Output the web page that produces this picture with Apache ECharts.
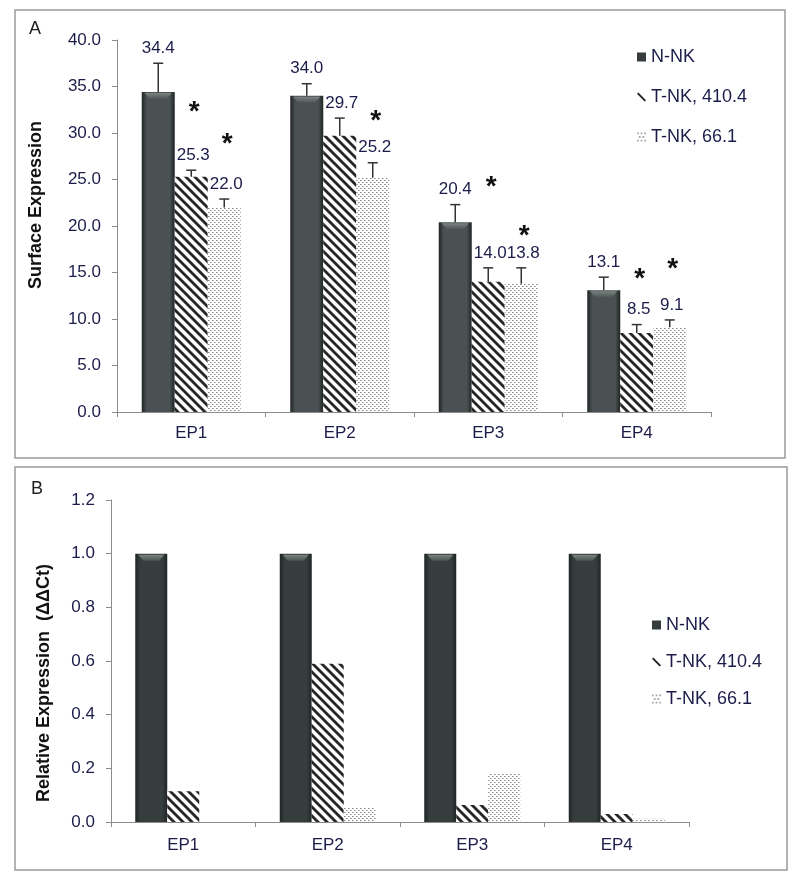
<!DOCTYPE html>
<html>
<head>
<meta charset="utf-8">
<script src="https://cdn.jsdelivr.net/npm/echarts@6/dist/echarts.min.js"></script>
<style>
  html, body { margin: 0; padding: 0; background: #ffffff; }
  #chart { width: 800px; height: 878px; }
</style>
</head>
<body>
<div id="chart"></div>
<script>
// ---------- data ----------
const categories = ['EP1', 'EP2', 'EP3', 'EP4'];
const seriesNames = ['N-NK', 'T-NK, 410.4', 'T-NK, 66.1'];

// Panel A: surface expression
const surfaceNNK  = [34.4, 34.0, 20.4, 13.1];
const surfaceT410 = [25.3, 29.7, 14.0, 8.5];
const surfaceT66  = [22.0, 25.2, 13.8, 9.1];
const errNNK  = [3.1, 1.3, 1.9, 1.4];
const errT410 = [0.7, 1.9, 1.5, 0.9];
const errT66  = [0.9, 1.6, 1.7, 0.8];
// significance asterisks: [category index, series index, y value]
const starPoints = [[0, 1, 33.0], [0, 2, 29.5], [1, 2, 32.0], [2, 1, 24.9], [2, 2, 19.6], [3, 1, 15.0], [3, 2, 16.1]];

// Panel B: relative expression (ΔΔCt)
const relNNK  = [1.0, 1.0, 1.0, 1.0];
const relT410 = [0.115, 0.59, 0.063, 0.03];
const relT66  = [0.0, 0.055, 0.18, 0.012];

// axis ticks
const yTicksA = { min: 0, max: 40, interval: 5 };
const yTicksB = { min: 0, max: 1.2, interval: 0.2 };

// ---------- styles ----------
const FONT = 'Liberation Sans, Arial, sans-serif';
const TXT = '#1c1c4a';
const AXIS = '#8c8c8c';
const BAR_A = 33, BAR_B = 32;

function hatchPattern() {
  const s = 9, c = document.createElement('canvas');
  c.width = s; c.height = s;
  const g = c.getContext('2d');
  g.fillStyle = '#ffffff'; g.fillRect(0, 0, s, s);
  g.strokeStyle = '#262626'; g.lineWidth = 2.8; g.lineCap = 'square';
  for (const o of [-s, 0, s]) { g.beginPath(); g.moveTo(o, 0); g.lineTo(o + s, s); g.stroke(); }
  return { image: c, repeat: 'repeat' };
}
function dotPattern() {
  const s = 4, c = document.createElement('canvas');
  c.width = s; c.height = s;
  const g = c.getContext('2d');
  g.fillStyle = '#ffffff'; g.fillRect(0, 0, s, s);
  g.fillStyle = '#8a8a8a';
  g.fillRect(0, 0, 1, 1); g.fillRect(2, 2, 1, 1);
  g.fillStyle = '#b8b8b8';
  g.fillRect(1, 0, 1, 1); g.fillRect(3, 2, 1, 1);
  return { image: c, repeat: 'repeat' };
}
function darkGrad(light) {
  return { type: 'linear', x: 0, y: 0, x2: 1, y2: 0, colorStops: [
    { offset: 0, color: '#1f2424' }, { offset: 0.15, color: light },
    { offset: 0.5, color: light }, { offset: 0.85, color: light }, { offset: 1, color: '#1f2424' }] };
}
const fills = [null, hatchPattern(), dotPattern()];

function barSeries(name, data, idx, axisIdx, width, light) {
  return {
    type: 'bar', name: name, data: data,
    xAxisIndex: axisIdx, yAxisIndex: axisIdx,
    barWidth: width, barGap: '0%',
    itemStyle: { color: idx === 0 ? darkGrad(light) : fills[idx] },
    emphasis: { disabled: true },
    z: 2
  };
}

// bevel highlight on top of the N-NK bars
function bevelSeries(axisIdx, data, width) {
  return {
    type: 'custom', xAxisIndex: axisIdx, yAxisIndex: axisIdx, silent: true, z: 3,
    data: data.map((v, i) => [i, v]), encode: { x: 0, y: 1 },
    renderItem: function (params, api) {
      const p = api.coord([api.value(0), api.value(1)]);
      const cx = p[0] - width, y = p[1];
      const h = width / 2;
      return { type: 'polygon', shape: { points: [[cx - h + 3, y + 1], [cx + h - 3, y + 1], [cx + h - 8, y + 7], [cx - h + 8, y + 7]] },
        style: { fill: { type: 'linear', x: 0, y: 0, x2: 0, y2: 1, colorStops: [{ offset: 0, color: '#7a8282' }, { offset: 1, color: '#4d5555' }] } } };
    }
  };
}

const valsA = [surfaceNNK, surfaceT410, surfaceT66];
const errsA = [errNNK, errT410, errT66];
const errData = [];
for (let i = 0; i < categories.length; i++) {
  for (let k = 0; k < 3; k++) errData.push([i, k, valsA[k][i], errsA[k][i]]);
}

function errRender(params, api) {
  const cat = api.value(0), k = api.value(1), v = api.value(2), e = api.value(3);
  const p0 = api.coord([cat, v]);
  const p1 = api.coord([cat, v + e]);
  const x = p0[0] + (k - 1) * BAR_A;
  return {
    type: 'group',
    children: [
      { type: 'line', shape: { x1: x, y1: p0[1], x2: x, y2: p1[1] }, style: { stroke: '#333', lineWidth: 1.5 } },
      { type: 'line', shape: { x1: x - 5, y1: p1[1], x2: x + 5, y2: p1[1] }, style: { stroke: '#333', lineWidth: 1.5 } },
      { type: 'text', style: { text: v.toFixed(1), x: x + (k > 0 ? 2 : 0), y: p1[1] - 15, align: 'center', verticalAlign: 'middle',
        fill: TXT, font: '17px ' + FONT } }
    ]
  };
}
function starRender(params, api) {
  const cat = api.value(0), k = api.value(1), y = api.value(2);
  const p = api.coord([cat, y]);
  const x = p[0] + (k - 1) * BAR_A + 3;
  return { type: 'text', style: { text: '*', x: x, y: p[1] + 7, align: 'center', verticalAlign: 'middle',
    fill: '#111', font: 'bold 28px ' + FONT } };
}

function yAxis(gridIndex, t, margin) {
  return {
    type: 'value', gridIndex: gridIndex, min: t.min, max: t.max, interval: t.interval,
    axisLine: { show: true, lineStyle: { color: AXIS, width: 1 } },
    axisTick: { show: true, length: 5, lineStyle: { color: AXIS } },
    splitLine: { show: false },
    axisLabel: { color: TXT, fontSize: 17, fontFamily: FONT, margin: margin, formatter: v => v.toFixed(1) }
  };
}
function xAxis(gridIndex, margin) {
  return {
    type: 'category', gridIndex: gridIndex, data: categories,
    axisLine: { lineStyle: { color: AXIS, width: 1 } },
    axisTick: { show: true, length: 5, lineStyle: { color: AXIS } },
    axisLabel: { color: TXT, fontSize: 17, fontFamily: FONT, margin: margin }
  };
}
function legend(left, top, gap) {
  return {
    orient: 'vertical', left: left, top: top, itemWidth: 9, itemHeight: 9, itemGap: gap,
    selectedMode: false,
    textStyle: { color: TXT, fontSize: 18, fontFamily: FONT },
    data: [
      { name: seriesNames[0], icon: 'rect', itemStyle: { color: '#363c3d' } },
      { name: seriesNames[1], icon: 'path://M0,1.5 L1.5,0 L10,8.5 L8.5,10 Z', itemStyle: { color: '#222' } },
      { name: seriesNames[2], icon: 'path://M0,0h2v2h-2z M4,0h2v2h-2z M8,0h2v2h-2z M2,4h2v2h-2z M6,4h2v2h-2z M0,8h2v2h-2z M4,8h2v2h-2z M8,8h2v2h-2z', itemStyle: { color: '#aaa' } }
    ]
  };
}

const chart = echarts.init(document.getElementById('chart'), null, { renderer: 'canvas' });
chart.setOption({
  backgroundColor: '#ffffff',
  animation: false,
  grid: [
    { left: 117, top: 40, width: 594, height: 372 },
    { left: 111, top: 500, width: 578, height: 322 }
  ],
  xAxis: [xAxis(0, 13), xAxis(1, 15)],
  yAxis: [yAxis(0, yTicksA, 16), yAxis(1, yTicksB, 16)],
  legend: [legend(632, 43, 22), legend(647, 611, 19)],
  graphic: [
    { type: 'rect', shape: { x: 15, y: 10, width: 770, height: 448 }, style: { fill: 'none', stroke: '#9a9a9a', lineWidth: 1.5 }, silent: true },
    { type: 'rect', shape: { x: 15, y: 467, width: 772, height: 403 }, style: { fill: 'none', stroke: '#9a9a9a', lineWidth: 1.5 }, silent: true },
    { type: 'text', x: 35, y: 29, style: { text: 'A', font: '18px ' + FONT, fill: '#222', align: 'center', verticalAlign: 'middle' } },
    { type: 'text', x: 37, y: 489, style: { text: 'B', font: '18px ' + FONT, fill: '#222', align: 'center', verticalAlign: 'middle' } },
    { type: 'text', x: 36, y: 205, rotation: Math.PI / 2, style: { text: 'Surface Expression', font: 'bold 18px ' + FONT, fill: '#111', align: 'center', verticalAlign: 'middle' } },
    { type: 'text', x: 44, y: 683, rotation: Math.PI / 2, style: { text: 'Relative Expression  (ΔΔCt)', font: 'bold 18px ' + FONT, fill: '#111', align: 'center', verticalAlign: 'middle' } }
  ],
  series: [
    barSeries(seriesNames[0], surfaceNNK, 0, 0, BAR_A, '#4a5152'),
    barSeries(seriesNames[1], surfaceT410, 1, 0, BAR_A),
    barSeries(seriesNames[2], surfaceT66, 2, 0, BAR_A),
    bevelSeries(0, surfaceNNK, BAR_A),
    { type: 'custom', xAxisIndex: 0, yAxisIndex: 0, data: errData, renderItem: errRender, z: 5, silent: true,
      encode: { x: 0, y: 2 } },
    { type: 'custom', xAxisIndex: 0, yAxisIndex: 0, data: starPoints, renderItem: starRender, z: 5, silent: true,
      encode: { x: 0, y: 2 } },
    barSeries(seriesNames[0], relNNK, 0, 1, BAR_B, '#363d3d'),
    barSeries(seriesNames[1], relT410, 1, 1, BAR_B),
    barSeries(seriesNames[2], relT66, 2, 1, BAR_B),
    bevelSeries(1, relNNK, BAR_B)
  ]
});
</script>
</body>
</html>
